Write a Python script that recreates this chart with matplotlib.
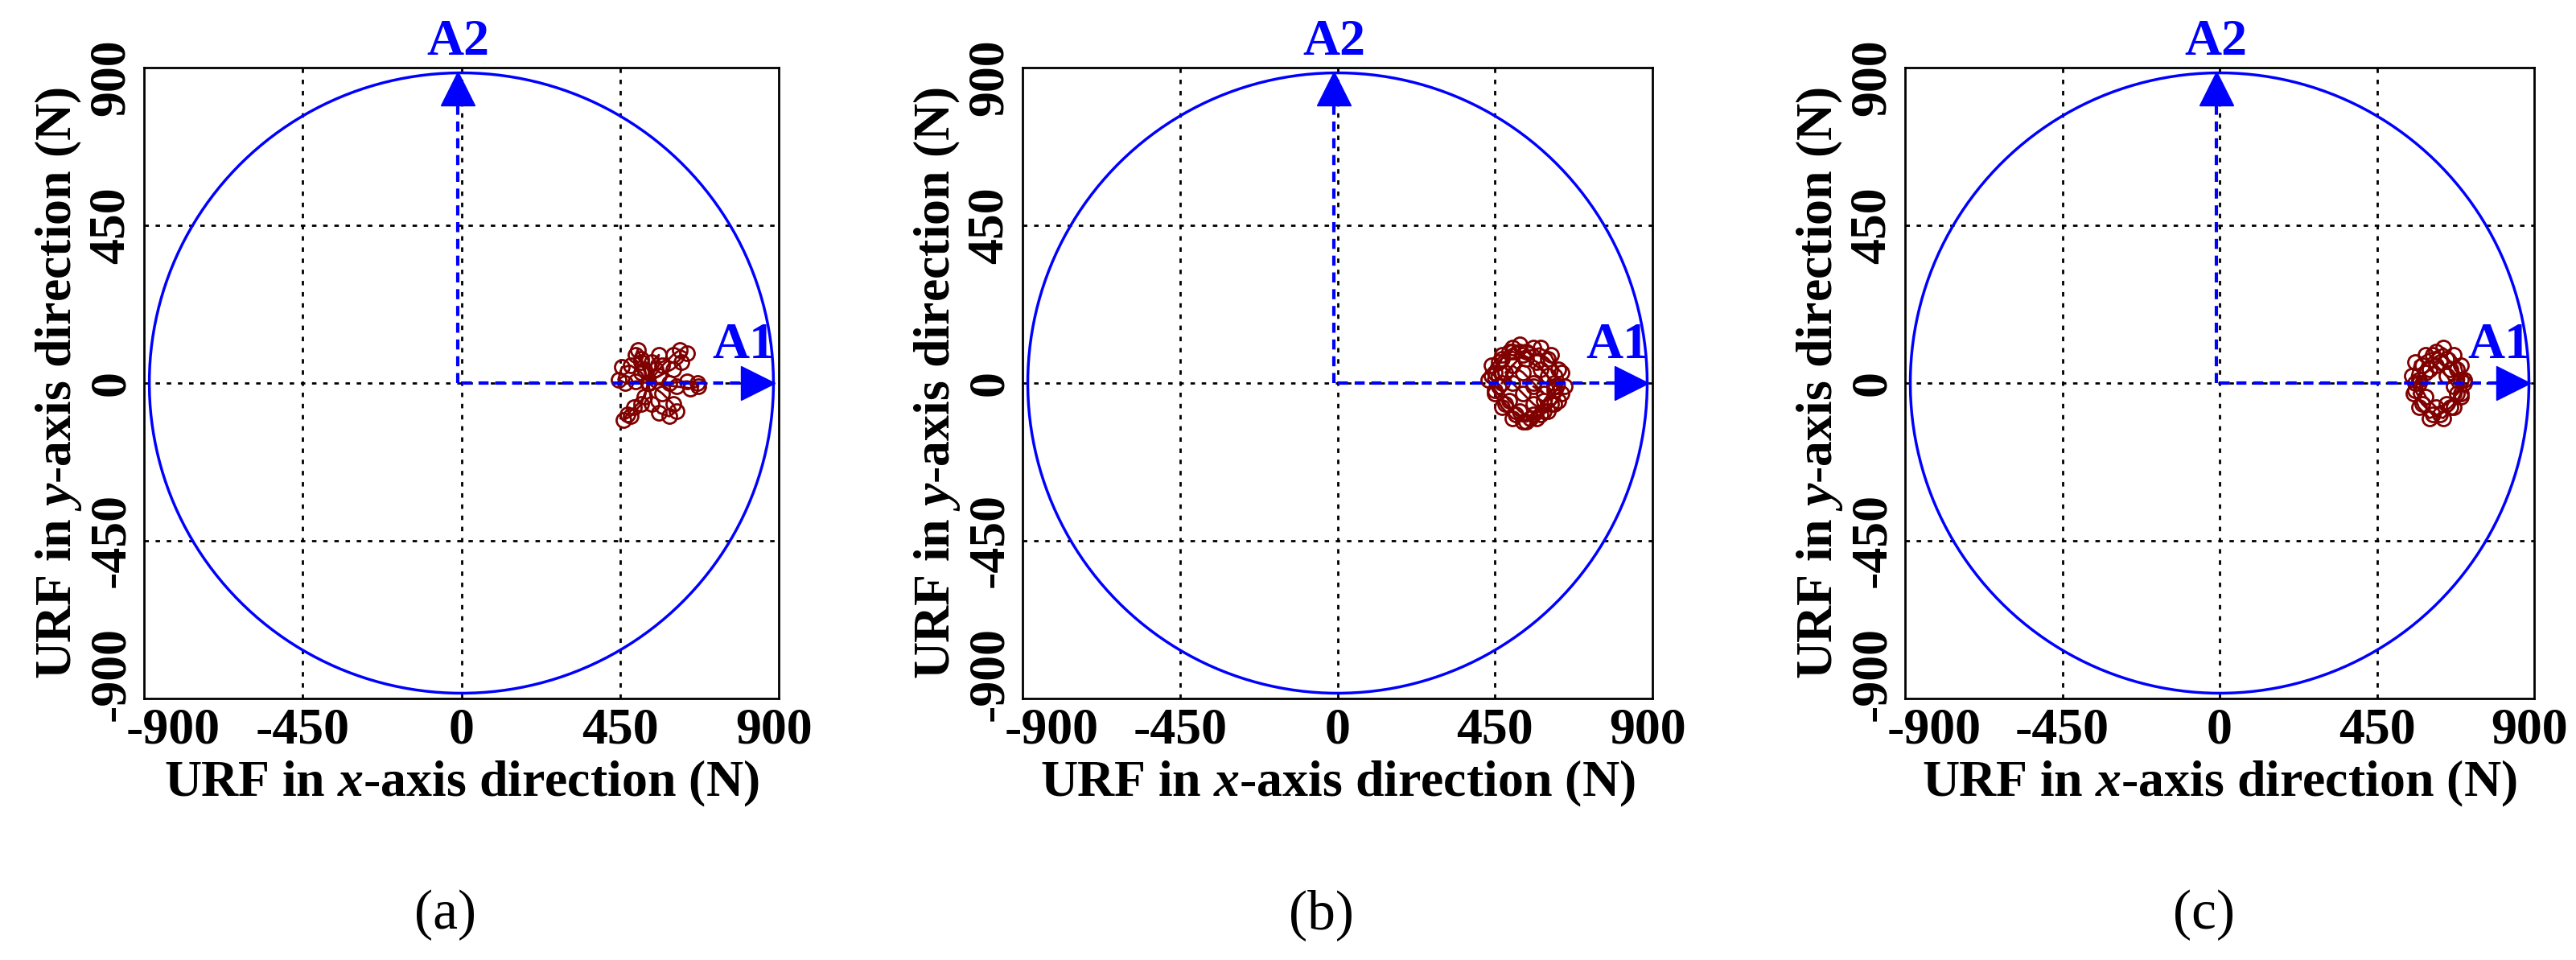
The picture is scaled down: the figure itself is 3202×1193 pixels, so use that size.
import matplotlib
matplotlib.use("Agg")
import matplotlib.pyplot as plt
import matplotlib.transforms as mtransforms
import numpy as np

plt.rcParams["mathtext.fontset"] = "custom"
plt.rcParams["mathtext.it"] = "Liberation Serif:italic:bold"
plt.rcParams["mathtext.rm"] = "Liberation Serif:bold"

ticks = [-900, -450, 0, 450, 900]
tick_labels = ["-900", "-450", "0", "450", "900"]
panel_labels = ["(a)", "(b)", "(c)"]
circle_radius = 885

a_x = [530, 560, 600, 625, 640, 620, 600, 570, 530, 590, 640, 670, 672, 650, 610, 530, 570, 600, 610, 590,
       560, 540, 530, 520, 490, 470, 460, 480, 510, 530, 510, 480, 455, 445, 465, 495, 530, 520, 510, 500,
       495, 510, 530, 550, 560, 540, 530]
a_y = [0, 20, 40, 60, 85, 95, 80, 50, 0, 0, 5, 0, -10, -15, -10, 0, -30, -60, -80, -95,
       -85, -60, 0, -40, -70, -90, -105, -95, -60, 0, 30, 50, 45, 10, 0, 5, 0, 40, 70, 95,
       80, 60, 0, 40, 80, 60, 0]

b_x = [470, 500, 540, 580, 610, 630, 620, 590, 560, 530, 500, 470, 450, 440, 460, 490, 520, 560, 600, 640,
       650, 630, 600, 570, 540, 510, 480, 450, 430, 440, 470, 500, 530, 570, 600, 620, 610, 580, 550, 520,
       490, 460, 450, 470, 500, 540, 580, 620, 640, 620, 590, 560, 530, 500, 480, 500, 530, 560, 590, 560]
b_y = [0, 50, 90, 100, 80, 40, -10, -50, -90, -110, -100, -70, -30, 20, 60, 90, 110, 100, 70, 30,
       -10, -50, -80, -100, -110, -90, -60, -20, 10, 50, 80, 100, 80, 60, 20, -20, -60, -90, -100, -80,
       -50, -10, 30, 70, 90, 70, 40, 0, -30, -60, -80, -60, -30, 0, 30, 50, 30, 0, -30, -10]

c_x = [560, 580, 610, 640, 670, 690, 700, 690, 670, 640, 610, 580, 560, 550, 560, 590, 620, 650, 680, 700,
       690, 660, 630, 600, 570, 555, 570, 600, 630, 660, 690, 680, 650, 620, 590, 570, 590, 620, 650, 670]
c_y = [0, 50, 80, 100, 80, 50, 10, -30, -70, -100, -90, -60, -20, 20, 60, 80, 90, 70, 40, 0,
       -40, -70, -90, -100, -70, -30, 10, 40, 60, 40, 10, -30, -60, -70, -40, 0, 30, 50, 20, -10]

clusters = [(a_x, a_y), (b_x, b_y), (c_x, c_y)]

fig = plt.figure(figsize=(32.02, 11.93), dpi=100)
lefts = [179, 1271, 2368]
widths = [789, 783, 782]
H = 1193.0
W = 3202.0
top, bottom = 84, 868
serif = ["Liberation Serif", "DejaVu Serif"]
blue = "#0000ff"
dred = "#800000"

for i, (cx, cy) in enumerate(clusters):
    ax = fig.add_axes([lefts[i] / W, 1 - bottom / H, widths[i] / W, (bottom - top) / H])
    ax.set_xlim(-900, 900)
    ax.set_ylim(-900, 900)
    for v in [-450, 0, 450]:
        ax.axvline(v, color="black", ls=(0, (2, 3)), lw=2, zorder=1)
        ax.axhline(v, color="black", ls=(0, (2, 3)), lw=2, zorder=1)
    t = np.linspace(0, 2 * np.pi, 400)
    ax.plot(circle_radius * np.cos(t), circle_radius * np.sin(t), color=blue, lw=2.5, zorder=2)
    ax.plot(cx, cy, color=dred, lw=2, marker="o", ms=13, mfc="none", mec=dred, mew=2, zorder=3)
    ax.plot([0, 800], [0, 0], color=blue, ls=(0, (3, 2)), lw=3, zorder=4)
    ax.plot([840], [0], marker=">", color=blue, ms=30, zorder=4, clip_on=False)
    ax.plot([-10, -10], [0, 800], color=blue, ls=(0, (3, 2)), lw=3, zorder=4)
    ax.plot([-10], [840], marker="^", color=blue, ms=30, zorder=4, clip_on=False)
    ax.text(800, 40, "A1", color=blue, fontsize=46, fontweight="bold", family=serif,
            ha="center", va="bottom")
    ax.text(-10, 905, "A2", color=blue, fontsize=46, fontweight="bold", family=serif,
            ha="center", va="bottom")
    ax.set_xticks(ticks)
    ax.set_xticklabels(tick_labels)
    ax.set_yticks(ticks)
    ax.set_yticklabels(tick_labels, rotation=90, va="center")
    ax.tick_params(length=0, pad=8)
    for lab in ax.get_xticklabels() + ax.get_yticklabels():
        lab.set_fontsize(46)
        lab.set_fontweight("bold")
        lab.set_family(serif)
    xl = ax.get_xticklabels()
    xl[0].set_transform(xl[0].get_transform() + mtransforms.ScaledTranslation(0.36, 0, fig.dpi_scale_trans))
    xl[-1].set_transform(xl[-1].get_transform() + mtransforms.ScaledTranslation(-0.06, 0, fig.dpi_scale_trans))
    yl = ax.get_yticklabels()
    yl[0].set_transform(yl[0].get_transform() + mtransforms.ScaledTranslation(0, 0.3, fig.dpi_scale_trans))
    yl[-1].set_transform(yl[-1].get_transform() + mtransforms.ScaledTranslation(0, -0.12, fig.dpi_scale_trans))
    for s in ax.spines.values():
        s.set_linewidth(2)
    ax.set_xlabel("URF in $\\mathit{x}$-axis direction (N)", fontsize=46, fontweight="bold", family=serif, labelpad=4)
    ax.set_ylabel("URF in $\\mathit{y}$-axis direction (N)", fontsize=46, fontweight="bold", family=serif, labelpad=4)
    fig.text((lefts[i] + widths[i] / 2 - 20) / W, 1 - 1137 / H, panel_labels[i], fontsize=50,
             family=serif, ha="center", va="center")

fig.savefig("out.png", dpi=100)
